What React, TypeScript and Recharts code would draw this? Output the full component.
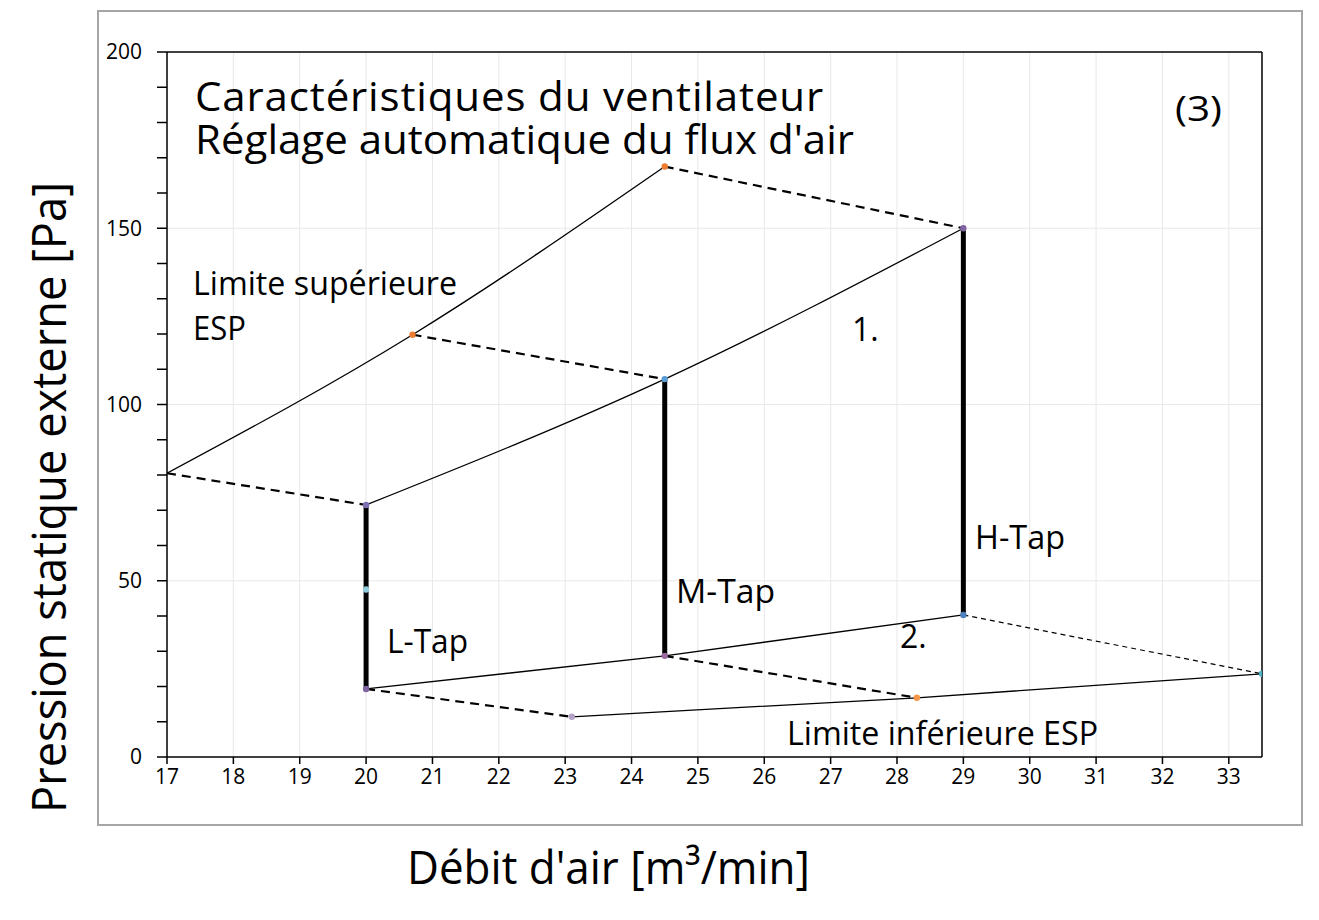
import React from 'react';
import {
  ComposedChart,
  Line,
  Scatter,
  XAxis,
  YAxis,
  CartesianGrid,
  ReferenceLine,
} from 'recharts';

// --- data (x = débit d'air, y = pression statique) ---
const xTicks = [17, 18, 19, 20, 21, 22, 23, 24, 25, 26, 27, 28, 29, 30, 31, 32, 33];
const yTicks = [0, 10, 20, 30, 40, 50, 60, 70, 80, 90, 100, 110, 120, 130, 140, 150, 160, 170, 180, 190, 200];

// upper ESP limit (smoothed)
const upperLimitX = [17, 20.7, 24.5];
const upperLimitY = [80.5, 119.8, 167.5];

// curve 1 (max external static pressure per tap)
const topCurveX = [20, 24.5, 29];
const topCurveY = [71.5, 107.2, 150];

// curve 2 (min external static pressure per tap)
const bottomCurveX = [20, 24.5, 29];
const bottomCurveY = [19.3, 28.7, 40.3];

// lower ESP limit
const lowerLimitX = [23.1, 28.3, 33.5];
const lowerLimitY = [11.4, 16.8, 23.6];

// dashed connectors
const dashA = { x: [17, 20], y: [80.5, 71.5] };
const dashB = { x: [20.7, 24.5], y: [119.8, 107.2] };
const dashC = { x: [24.5, 29], y: [167.5, 150] };
const dashD = { x: [20, 23.1], y: [19.3, 11.4] };
const dashE = { x: [24.5, 28.3], y: [28.7, 16.8] };
const dashF = { x: [29, 33.5], y: [40.3, 23.6] };

// taps (thick verticals)
const lTap = { x: [20, 20], y: [19.3, 71.5] };
const mTap = { x: [24.5, 24.5], y: [28.7, 107.2] };
const hTap = { x: [29, 29], y: [40.3, 150] };

// markers
const markerX = [20.7, 24.5, 20, 24.5, 29, 20, 24.5, 29, 23.1, 28.3, 33.5, 20];
const markerY = [119.8, 167.5, 71.5, 107.2, 150, 19.3, 28.7, 40.3, 11.4, 16.8, 23.6, 47.5];
const markerColors = ['#ED7D31', '#ED7D31', '#7E6FB2', '#5B9BD5', '#8064A2', '#8064A2', '#9E6A9E', '#4F81BD', '#B3A2C7', '#F79646', '#4BACC6', '#93CDDD'];

const titleLines = ['Caractéristiques du ventilateur', "Réglage automatique du flux d'air"];

const zip = (xs: number[], ys: number[]) => xs.map((x, i) => ({ x, y: ys[i] }));

const FONT = '"Open Sans", "Noto Sans", sans-serif';

const solid = { stroke: '#000', strokeWidth: 1.3 };
const dashed = { stroke: '#000', strokeWidth: 2.2, strokeDasharray: '9 6' };
const thick = { stroke: '#000', strokeWidth: 5 };

function measure(text: string, size: number) {
  try {
    const ctx = document.createElement('canvas').getContext('2d');
    if (!ctx) return 0;
    ctx.font = `${size}px "Open Sans"`;
    return ctx.measureText(text).width;
  } catch (e) {
    return 0;
  }
}

export default function App() {
  const markers = zip(markerX, markerY);

  // the original font is narrower: squeeze the title to its widths (629 / 659 px)
  const w1 = measure(titleLines[0], 41);
  const w2 = measure(titleLines[1], 41);
  const sx = w2 > 0 ? 659 / w2 : 1;
  const ls1 = w1 > 0 ? (629 / sx - w1) / titleLines[0].length : 0;

  return (
    <div style={{ position: 'absolute', left: 0, top: 0, width: 1319, height: 920, background: '#fff', fontFamily: FONT }}>
      <style>{`.chart-title::first-line { letter-spacing: ${ls1.toFixed(3)}px; }`}</style>

      {/* outer frame */}
      <div
        style={{
          position: 'absolute',
          left: 97,
          top: 10,
          width: 1206,
          height: 816,
          border: '2px solid #a6a6a6',
          boxSizing: 'border-box',
        }}
      />

      <div style={{ position: 'absolute', left: 0, top: 0 }}>
        <ComposedChart width={1319} height={920} margin={{ top: 52, right: 57, bottom: 133, left: 107 }}>
          <CartesianGrid
            stroke="#e8e8e8"
            strokeWidth={1}
            horizontalValues={[50, 100, 150]}
            verticalValues={xTicks.slice(1)}
          />
          <XAxis
            type="number"
            dataKey="x"
            domain={[17, 33.5]}
            ticks={xTicks}
            interval={0}
            allowDataOverflow
            height={30}
            stroke="#000"
            strokeWidth={1.5}
            tickSize={7}
            tickMargin={5}
            tick={{ fill: '#000', fontSize: 21, fontFamily: FONT }}
          />
          <YAxis
            type="number"
            dataKey="y"
            domain={[0, 200]}
            ticks={yTicks}
            interval={0}
            width={60}
            stroke="#000"
            strokeWidth={1.5}
            tickSize={10}
            tickMargin={15}
            tickFormatter={(v: number) => (v % 50 === 0 ? String(v) : '')}
            tick={{ fill: '#000', fontSize: 21, fontFamily: FONT }}
          />
          <ReferenceLine y={200} stroke="#000" strokeWidth={1.5} />
          <ReferenceLine x={33.5} stroke="#000" strokeWidth={1.5} />

          <Line data={zip(upperLimitX, upperLimitY)} dataKey="y" type="natural" {...solid} dot={false} isAnimationActive={false} />
          <Line data={zip(topCurveX, topCurveY)} dataKey="y" type="natural" {...solid} dot={false} isAnimationActive={false} />
          <Line data={zip(bottomCurveX, bottomCurveY)} dataKey="y" type="linear" {...solid} dot={false} isAnimationActive={false} />
          <Line data={zip(lowerLimitX, lowerLimitY)} dataKey="y" type="linear" {...solid} dot={false} isAnimationActive={false} />

          <Line data={zip(dashA.x, dashA.y)} dataKey="y" {...dashed} dot={false} isAnimationActive={false} />
          <Line data={zip(dashB.x, dashB.y)} dataKey="y" {...dashed} dot={false} isAnimationActive={false} />
          <Line data={zip(dashC.x, dashC.y)} dataKey="y" {...dashed} dot={false} isAnimationActive={false} />
          <Line data={zip(dashD.x, dashD.y)} dataKey="y" {...dashed} dot={false} isAnimationActive={false} />
          <Line data={zip(dashE.x, dashE.y)} dataKey="y" {...dashed} dot={false} isAnimationActive={false} />
          <Line data={zip(dashF.x, dashF.y)} dataKey="y" stroke="#000" strokeWidth={1.2} strokeDasharray="5 4" dot={false} isAnimationActive={false} />

          <Line data={zip(lTap.x, lTap.y)} dataKey="y" {...thick} dot={false} isAnimationActive={false} />
          <Line data={zip(mTap.x, mTap.y)} dataKey="y" {...thick} dot={false} isAnimationActive={false} />
          <Line data={zip(hTap.x, hTap.y)} dataKey="y" {...thick} dot={false} isAnimationActive={false} />

          <Scatter
            data={markers}
            dataKey="y"
            isAnimationActive={false}
            shape={(p: any) => (
              <circle cx={p.cx} cy={p.cy} r={3.2} fill={markerColors[p.index] || '#888'} />
            )}
          />
        </ComposedChart>
      </div>

      {/* two-line title, one text block */}
      <div
        className="chart-title"
        style={{
          position: 'absolute',
          left: 195,
          top: 74,
          fontSize: 41,
          lineHeight: '43px',
          whiteSpace: 'pre',
          color: '#000',
          transform: `scaleX(${sx})`,
          transformOrigin: 'left top',
        }}
      >
        {titleLines.join('\n')}
      </div>

      {/* text overlay */}
      <svg width={1319} height={920} style={{ position: 'absolute', left: 0, top: 0, pointerEvents: 'none' }}>
        <g fontFamily={FONT} fill="#000">
          <text x={1175} y={121} fontSize={35} textLength={47} lengthAdjust="spacingAndGlyphs">(3)</text>

          <text fontSize={32}>
            <tspan x={193} y={295} textLength={264} lengthAdjust="spacingAndGlyphs">Limite supérieure</tspan>
            <tspan x={193} y={340} textLength={53} lengthAdjust="spacingAndGlyphs">ESP</tspan>
          </text>
          <text x={852} y={341} fontSize={32}>1.</text>
          <text x={975} y={549} fontSize={32} textLength={90} lengthAdjust="spacingAndGlyphs">H-Tap</text>
          <text x={676} y={603} fontSize={32} textLength={99} lengthAdjust="spacingAndGlyphs">M-Tap</text>
          <text x={387} y={653} fontSize={32} textLength={81} lengthAdjust="spacingAndGlyphs">L-Tap</text>
          <text x={900} y={648} fontSize={32}>2.</text>
          <text x={787} y={745} fontSize={32} textLength={311} lengthAdjust="spacingAndGlyphs">Limite inférieure ESP</text>

          <text transform="translate(66,813) rotate(-90)" fontSize={48} textLength={631} lengthAdjust="spacingAndGlyphs">
            Pression statique externe [Pa]
          </text>
          <text x={407} y={884} fontSize={46} textLength={403} lengthAdjust="spacingAndGlyphs">Débit d'air [m³/min]</text>
        </g>
      </svg>
    </div>
  );
}
